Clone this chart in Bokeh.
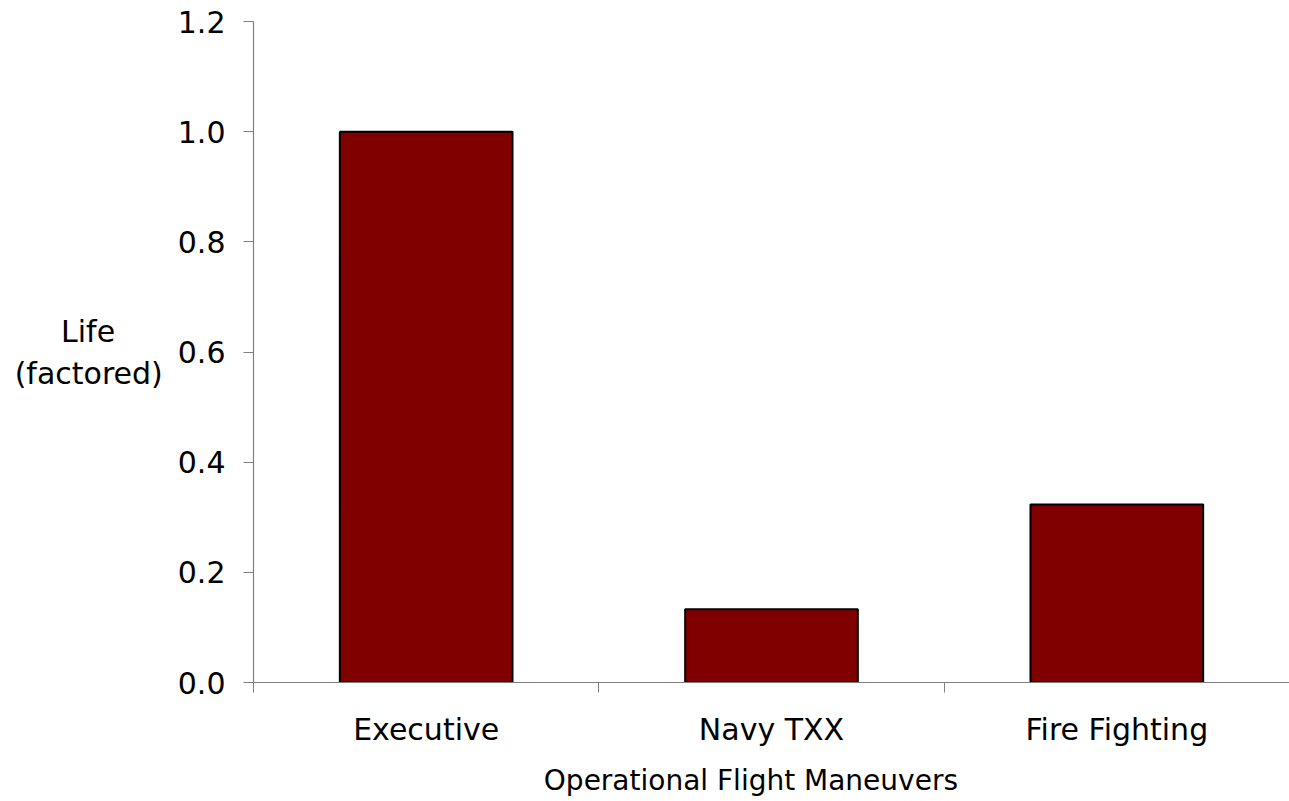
from bokeh.plotting import figure
from bokeh.models import Range1d, FixedTicker, NumeralTickFormatter, ColumnDataSource
from bokeh.embed import file_html
from bokeh.resources import INLINE

categories = ["Executive", "Navy TXX", "Fire Fighting"]
life_factored = [1.0, 0.133, 0.323]
y_ticks = [0.0, 0.2, 0.4, 0.6, 0.8, 1.0, 1.2]
# trailing non-breaking spaces shift the centred titles like in the reference
x_title = "Operational Flight Maneuvers\u00a0\u00a0\u00a0\u00a0\u2009"
y_title = "Life\u00a0\u00a0\u00a0\u00a0\u00a0\n(factored)"

FONT = "DejaVu Sans"
AXIS_COLOR = "#7f7f7f"

xpos = [i + 0.5 for i in range(len(categories))]
src = ColumnDataSource(dict(x=xpos, top=life_factored, cat=categories))

p = figure(width=1289, height=801, output_backend="svg", toolbar_location=None,
           x_range=Range1d(0, 3), y_range=Range1d(0, 1.2),
           min_border_left=253, min_border_right=0, min_border_top=21, min_border_bottom=119)
p.outline_line_color = None
p.xgrid.visible = False
p.ygrid.visible = False

p.vbar(x="x", top="top", width=0.5, bottom=0, source=src,
       fill_color="#800000", line_color="#000000", line_width=2)

# x axis
p.xaxis.ticker = FixedTicker(ticks=xpos, minor_ticks=[0, 1, 2, 3])
p.xaxis.major_label_overrides = {x: c for x, c in zip(xpos, categories)}
p.xaxis.major_tick_line_color = None
p.xaxis.minor_tick_in = 0
p.xaxis.minor_tick_out = 10
p.xaxis.minor_tick_line_color = AXIS_COLOR
p.xaxis.axis_line_color = AXIS_COLOR
p.xaxis.axis_label = x_title
p.xaxis.major_label_standoff = 19
p.xaxis.axis_label_standoff = 14
p.xaxis.major_label_text_font_size = "30px"
p.xaxis.axis_label_text_font_size = "28px"

# y axis
p.yaxis.ticker = FixedTicker(ticks=y_ticks)
p.yaxis.formatter = NumeralTickFormatter(format="0.0")
p.yaxis.major_tick_in = 0
p.yaxis.major_tick_out = 10
p.yaxis.minor_tick_line_color = None
p.yaxis.major_tick_line_color = AXIS_COLOR
p.yaxis.axis_line_color = AXIS_COLOR
p.yaxis.axis_label = y_title
p.yaxis.axis_label_orientation = "horizontal"
p.yaxis.major_label_standoff = 18
p.yaxis.axis_label_standoff = 12
p.yaxis.major_label_text_font_size = "30px"
p.yaxis.axis_label_text_font_size = "30px"

for ax in (p.xaxis[0], p.yaxis[0]):
    ax.major_label_text_font = FONT
    ax.major_label_text_color = "#000000"
    ax.axis_label_text_font = FONT
    ax.axis_label_text_font_style = "normal"
    ax.axis_label_text_color = "#000000"
    ax.axis_line_width = 1.2

open("out.html", "w").write(file_html(p, INLINE))
